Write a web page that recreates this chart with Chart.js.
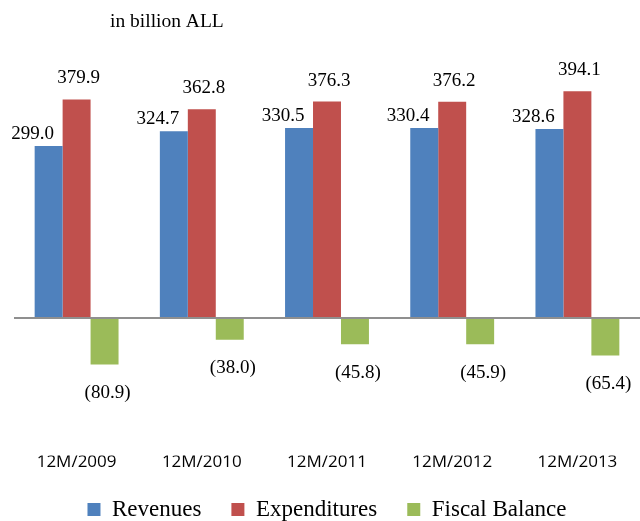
<!DOCTYPE html>
<html>
<head>
<meta charset="utf-8">
<script src="https://cdn.jsdelivr.net/npm/chart.js@4.4.1/dist/chart.umd.min.js"></script>
<style>
html,body{margin:0;padding:0;background:#fff;}
#wrap{width:640px;height:521px;position:relative;}
</style>
</head>
<body>
<div id="wrap"><canvas id="c" width="640" height="521"></canvas></div>
<script>
const categories = ["12M/2009", "12M/2010", "12M/2011", "12M/2012", "12M/2013"];
const revenues = [299.0, 324.7, 330.5, 330.4, 328.6];
const expenditures = [379.9, 362.8, 376.3, 376.2, 394.1];
const fiscalBalance = [-80.9, -38.0, -45.8, -45.9, -65.4];
const seriesNames = ["Revenues", "Expenditures", "Fiscal Balance"];
const unitLabel = "in billion ALL";

const SERIF = "'Liberation Serif', 'Times New Roman', serif";

const labelOffsets = [
  {dx: -16, dy: 12},
  {dx: 2, dy: 21},
  {dx: 3, dy: 28.5}
];

const valueLabels = {
  id: 'valueLabels',
  afterDatasetsDraw(chart) {
    const ctx = chart.ctx;
    ctx.save();
    ctx.font = "19px " + SERIF;
    ctx.fillStyle = '#000';
    ctx.textAlign = 'center';
    ctx.textBaseline = 'middle';
    chart.data.datasets.forEach((ds, i) => {
      const meta = chart.getDatasetMeta(i);
      const off = labelOffsets[i];
      meta.data.forEach((bar, j) => {
        const v = ds.data[j];
        const txt = v < 0 ? '(' + Math.abs(v).toFixed(1) + ')' : v.toFixed(1);
        const y = v < 0 ? bar.y + off.dy : bar.y - off.dy;
        ctx.fillText(txt, bar.x + off.dx, y);
      });
    });
    ctx.restore();
  }
};

const zeroLine = {
  id: 'zeroLine',
  afterDatasetsDraw(chart) {
    const {ctx, chartArea, scales} = chart;
    const y = scales.y.getPixelForValue(0);
    ctx.save();
    ctx.strokeStyle = '#8f8f8f';
    ctx.lineWidth = 2;
    ctx.beginPath();
    ctx.moveTo(chartArea.left, y);
    ctx.lineTo(chartArea.right, y);
    ctx.stroke();
    ctx.restore();
  }
};

const unitTitle = {
  id: 'unitTitle',
  afterDraw(chart) {
    const ctx = chart.ctx;
    ctx.save();
    ctx.font = "19.5px " + SERIF;
    ctx.fillStyle = '#000';
    ctx.textAlign = 'left';
    ctx.textBaseline = 'middle';
    ctx.fillText(unitLabel, chart.chartArea.left + 96, 22);
    ctx.restore();
  }
};

new Chart(document.getElementById('c'), {
  type: 'bar',
  data: {
    labels: categories,
    datasets: [
      {label: seriesNames[0], data: revenues, backgroundColor: '#4F81BD'},
      {label: seriesNames[1], data: expenditures, backgroundColor: '#C0504D'},
      {label: seriesNames[2], data: fiscalBalance, backgroundColor: '#9BBB59'}
    ]
  },
  options: {
    responsive: false,
    animation: false,
    devicePixelRatio: 1,
    layout: {padding: {left: 14, right: 0, top: 40, bottom: -10}},
    datasets: {bar: {categoryPercentage: 0.67, barPercentage: 1.0}},
    scales: {
      x: {
        grid: {display: false, drawTicks: false},
        border: {display: false},
        ticks: {color: '#000', font: {family: "'Open Sans', sans-serif", size: 17, lineHeight: 0.26}, padding: 4, maxRotation: 0}
      },
      y: {
        display: false,
        min: -239.5,
        max: 483.4
      }
    },
    plugins: {
      legend: {
        position: 'bottom',
        labels: {
          boxWidth: 13,
          boxHeight: 13,
          padding: 30,
          color: '#000',
          font: {family: SERIF, size: 23}
        }
      },
      tooltip: {enabled: false},
      title: {display: false}
    }
  },
  plugins: [zeroLine, valueLabels, unitTitle]
});
</script>
</body>
</html>
